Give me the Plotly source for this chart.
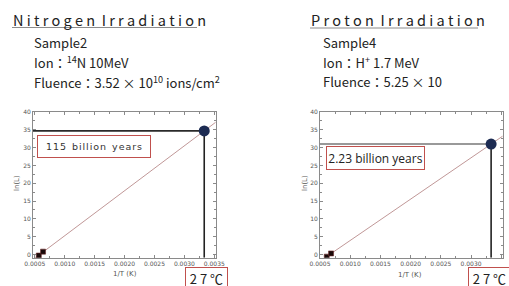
import numpy as np
import plotly.graph_objects as go

# ---- data ----
n_meas_x = [0.000567, 0.000638]
n_meas_y = [-0.3, 0.8]
p_meas_x = [0.000612, 0.000683]
p_meas_y = [-0.6, 0.3]
t_room = 1 / 300.15          # 27 °C
n_room_y = 34.7
p_room_y = 31.0
n_xrange = [0.00047, 0.00352]
p_xrange = [0.00050, 0.00352]
yrange = [-0.9, 40]
xticks = [0.0005, 0.0010, 0.0015, 0.0020, 0.0025, 0.0030, 0.0035]
xticklabels = ["0.0005", "0.0010", "0.0015", "0.0020", "0.0025", "0.0030", "0.0035"]
yticks = [0, 5, 10, 15, 20, 25, 30, 35, 40]

W, H = 509, 286
FONT = "Noto Sans CJK JP"

fig = go.Figure()

def add_panel(xa, ya, mx, my, ry, xr, hcol):
    xs = np.array(mx + [t_room])
    ys = np.array(my + [ry])
    k, b = np.polyfit(xs, ys, 1)
    lx = np.array([xr[0] - 0.0002, xr[1] + 0.0002])
    fig.add_trace(go.Scatter(x=lx, y=k * lx + b, mode="lines",
                             line=dict(color="#b07c7c", width=0.8),
                             xaxis=xa, yaxis=ya, hoverinfo="skip"))
    fig.add_trace(go.Scatter(x=[xr[0], t_room], y=[ry, ry], mode="lines",
                             line=dict(color=hcol, width=1.6),
                             xaxis=xa, yaxis=ya))
    fig.add_trace(go.Scatter(x=[t_room, t_room], y=[yrange[0], ry], mode="lines",
                             line=dict(color="#222222", width=1.6),
                             xaxis=xa, yaxis=ya))
    fig.add_trace(go.Scatter(x=mx, y=my, mode="markers",
                             marker=dict(symbol="square", size=5, color="#1a0a0a",
                                         line=dict(color="#6b2b2b", width=0.6)),
                             xaxis=xa, yaxis=ya))
    fig.add_trace(go.Scatter(x=[t_room], y=[ry], mode="markers",
                             marker=dict(size=11, color="#1c2b52"),
                             xaxis=xa, yaxis=ya))

add_panel("x", "y", n_meas_x, n_meas_y, n_room_y, n_xrange, "#2a2a2a")
add_panel("x2", "y2", p_meas_x, p_meas_y, p_room_y, p_xrange, "#777777")

ydom = [1 - 257.7 / H, 1 - 112 / H]
axcommon = dict(showline=True, linecolor="#8a8a8a", linewidth=1, mirror="ticks",
                ticks="inside", ticklen=3, tickcolor="#8a8a8a", showgrid=False,
                zeroline=False, automargin=False,
                tickfont=dict(size=6, color="#555555", family="DejaVu Sans"))
xcommon = dict(axcommon, tickvals=xticks, ticktext=xticklabels,
               minor=dict(ticks="inside", ticklen=2, dtick=0.00025, tickcolor="#8a8a8a"))
ycommon = dict(axcommon, tickvals=yticks, range=yrange,
               minor=dict(ticks="inside", ticklen=2, dtick=2.5, tickcolor="#8a8a8a"))

fig.update_layout(
    width=W, height=H, margin=dict(l=0, r=0, t=0, b=0, autoexpand=False),
    paper_bgcolor="white", plot_bgcolor="white", showlegend=False,
    xaxis=dict(xcommon, domain=[33 / W, 215.5 / W], range=n_xrange, anchor="y"),
    yaxis=dict(ycommon, domain=ydom, anchor="x"),
    xaxis2=dict(xcommon, domain=[320 / W, 502.5 / W], range=p_xrange, anchor="y2"),
    yaxis2=dict(ycommon, domain=ydom, anchor="x2"),
    font=dict(family=FONT, color="#222222"),
)

def ann(text, x, y, size, **kw):
    d = dict(text=text, x=x / W, y=1 - y / H, xref="paper", yref="paper",
             showarrow=False, xanchor="center", yanchor="middle",
             font=dict(size=size, family=kw.pop("family", FONT),
                       color=kw.pop("color", "#222222")))
    d.update(kw)
    fig.add_annotation(**d)

def spaced(s, sep=" "):
    return sep.join(list(s))

# titles
ann(spaced("Nitrogen") + "  " + spaced("Irradiation"), 11, 20, 14.5, xanchor="left")
ann(spaced("Proton") + "  " + spaced("Irradiation"), 309, 20, 14.5, xanchor="left")
fig.add_shape(type="line", xref="paper", yref="paper", x0=12 / W, x1=197 / W,
              y0=1 - 27.5 / H, y1=1 - 27.5 / H, line=dict(color="#8c8c8c", width=1))
fig.add_shape(type="line", xref="paper", yref="paper", x0=310 / W, x1=478 / W,
              y0=1 - 28 / H, y1=1 - 28 / H, line=dict(color="#8c8c8c", width=1))

# sub text
SUB = 13
ann("Sample2", 32, 43, SUB, xanchor="left")
ann("Ion：<sup>14</sup>N 10MeV", 32, 62, SUB, xanchor="left")
ann("Fluence：3.52 × 10<sup>10</sup> ions/cm<sup>2</sup>", 32, 82, SUB, xanchor="left")
ann("Sample4", 321, 43, SUB, xanchor="left")
ann("Ion：H<sup>+</sup> 1.7 MeV", 321, 62, SUB, xanchor="left")
ann("Fluence：5.25 × 10", 321, 82, SUB, xanchor="left")

# boxes
RED = "#c0504d"
HS = "\u200a"
ann(spaced("115", HS) + "  " + spaced("billion", HS) + "  " + spaced("years", HS),
    94, 146.5, 9.5, bordercolor=RED, borderwidth=1, bgcolor="white",
    width=110, height=19, color="#333333", family="DejaVu Sans")
ann("2.23 billion years", 375.5, 158, 12, bordercolor=RED, borderwidth=1, bgcolor="white",
    width=95, height=20, family="Open Sans")
ann("2 7 ℃", 206.5, 278, 13, bordercolor=RED, borderwidth=1, bgcolor="white",
    width=39, height=18)
ann("2 7 ℃", 489, 278, 13, bordercolor=RED, borderwidth=1, bgcolor="white",
    width=39, height=18)

# axis titles
ann("1/T (K)", 125, 274, 7, color="#555555", family="DejaVu Sans")
ann("1/T (K)", 410, 275, 7, color="#555555", family="DejaVu Sans")
ann("ln(L)", 17, 183, 7, color="#555555", family="DejaVu Sans", textangle=-90)
ann("ln(L)", 305, 183, 7, color="#555555", family="DejaVu Sans", textangle=-90)

fig.write_html("out.html", config={"displayModeBar": False},
               post_script="document.body.style.margin='0';")
